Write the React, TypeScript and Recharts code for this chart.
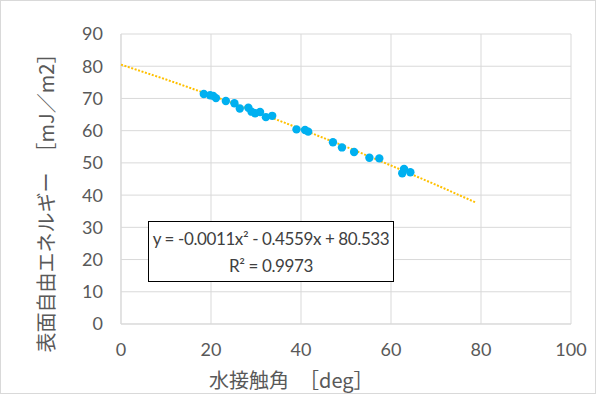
import { ScatterChart, Scatter, XAxis, YAxis, CartesianGrid } from "recharts";

// measured points (water contact angle [deg], surface free energy [mJ/m2])
const contactAngle = [18.4, 19.8, 20.5, 21.1, 23.3, 25.2, 26.4, 28.3, 29.0, 29.8, 30.9, 32.2, 33.6, 39.0, 40.9, 41.6, 47.1, 49.1, 51.8, 55.2, 57.4, 62.5, 62.9, 64.3];
const surfaceEnergy = [71.4, 71.0, 70.8, 70.1, 69.2, 68.5, 66.9, 67.1, 65.9, 65.4, 65.8, 64.2, 64.6, 60.4, 60.2, 59.7, 56.4, 54.8, 53.4, 51.6, 51.4, 46.8, 48.1, 47.1];

// trendline
const trendX = [0, 10, 20, 30, 40, 50, 60, 70, 79];
const trendY = [80.5, 75.9, 71.0, 65.9, 60.5, 55.0, 49.2, 43.2, 37.6];

const xTicks = [0, 20, 40, 60, 80, 100];
const yTicks = [0, 10, 20, 30, 40, 50, 60, 70, 80, 90];

const equation = "y = -0.0011x² - 0.4559x + 80.533";
const rSquared = "R² = 0.9973";

const FONT = "Lato, 'Open Sans', sans-serif";
const JP_FONT = "'Noto Sans CJK JP', sans-serif";
const GRAY = "#595959";

const points = contactAngle.map((x, i) => ({ x, y: surfaceEnergy[i] }));
const trend = trendX.map((x, i) => ({ x, y: trendY[i] }));

const Dot = (props: any) => <circle cx={props.cx} cy={props.cy} r={4.2} fill="#00B0F0" />;
const NoDot = () => <g />;

export default function App() {
  return (
    <div style={{ position: "absolute", left: 0, top: 0, width: 596, height: 394, background: "#fff" }}>
      <div style={{ position: "absolute", inset: 0, border: "1px solid #d9d9d9", boxSizing: "border-box", pointerEvents: "none" }} />
      <ScatterChart width={596} height={394} margin={{ top: 34, right: 25, bottom: 0, left: 0 }}>
        <CartesianGrid stroke="#d9d9d9" />
        <XAxis
          type="number"
          dataKey="x"
          domain={[0, 100]}
          ticks={xTicks}
          height={70}
          tickSize={0}
          tickMargin={19}
          tickLine={false}
          axisLine={{ stroke: "#d9d9d9" }}
          tick={{ fill: GRAY, fontSize: 18, fontFamily: FONT }}
        />
        <YAxis
          type="number"
          dataKey="y"
          domain={[0, 90]}
          ticks={yTicks}
          width={121}
          tickSize={0}
          tickMargin={18}
          tickLine={false}
          axisLine={{ stroke: "#d9d9d9" }}
          tick={{ fill: GRAY, fontSize: 18, fontFamily: FONT }}
        />
        <Scatter
          data={trend}
          line={{ stroke: "#FFC000", strokeWidth: 2, strokeDasharray: "2 1.6" }}
          shape={NoDot}
          isAnimationActive={false}
        />
        <Scatter data={points} shape={Dot} isAnimationActive={false} />
      </ScatterChart>

      {/* axis titles */}
      <div style={{ position: "absolute", left: 209, top: 366, fontFamily: JP_FONT, fontSize: 20, color: GRAY, whiteSpace: "nowrap", lineHeight: "28px" }}>
        水接触角　［deg］
      </div>
      <div
        style={{
          position: "absolute", left: 45, top: 198, fontFamily: JP_FONT, fontSize: 20, color: GRAY,
          whiteSpace: "nowrap", transform: "translate(-50%, -50%) rotate(-90deg)",
        }}
      >
        表面自由エネルギー　［mJ／m2］
      </div>

      {/* trendline label */}
      <div
        style={{
          position: "absolute", left: 148, top: 221, width: 246, height: 61, boxSizing: "border-box",
          border: "1px solid #000", background: "#fff", fontFamily: FONT, fontSize: 17, color: "#404040",
          textAlign: "center", lineHeight: "27px", paddingTop: 3, whiteSpace: "nowrap", letterSpacing: -0.4,
        }}
      >
        <div>{equation}</div>
        <div>{rSquared}</div>
      </div>
    </div>
  );
}
